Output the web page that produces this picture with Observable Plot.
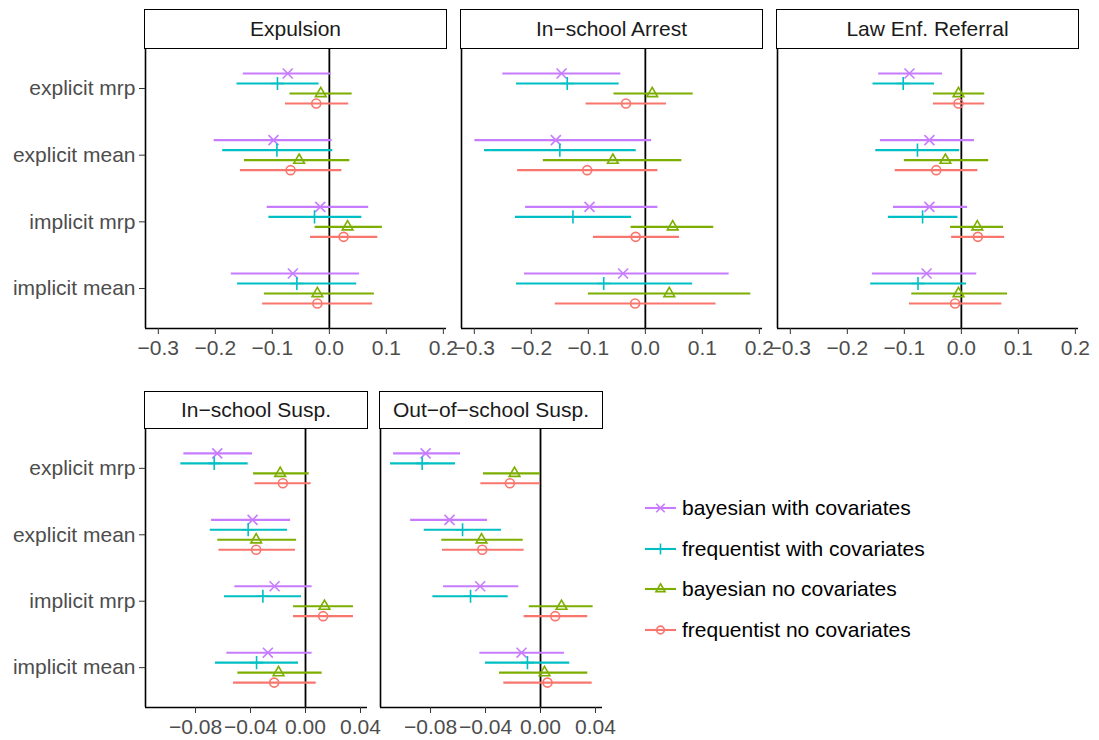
<!DOCTYPE html>
<html><head><meta charset="utf-8">
<script src="https://cdn.jsdelivr.net/npm/d3@7"></script>
<script src="https://cdn.jsdelivr.net/npm/@observablehq/plot@0.6"></script>
<style>
body{margin:0;background:#fff;}
#root{position:relative;width:1099px;height:740px;font-family:"Liberation Sans",Arial,sans-serif;overflow:hidden;}
.strip{position:absolute;box-sizing:border-box;border:1.7px solid #000;background:#fff;font-size:21px;color:#1a1a1a;display:flex;align-items:center;justify-content:center;}
.panel{position:absolute;}
.panel svg{overflow:visible;max-width:none !important;}
.legend-row{position:absolute;display:flex;align-items:center;font-size:21px;color:#000;white-space:nowrap;}
</style></head><body><div id="root"></div>
<script>
// ---- data ----
const categories = ["explicit mrp", "explicit mean", "implicit mrp", "implicit mean"];
const series = ["bayesian with covariates", "frequentist with covariates", "bayesian no covariates", "frequentist no covariates"];
const panels = ["Expulsion", "In\u2212school Arrest", "Law Enf. Referral", "In\u2212school Susp.", "Out\u2212of\u2212school Susp."];
const topTicks = [-0.3, -0.2, -0.1, 0, 0.1, 0.2];
const bottomTicks = [-0.08, -0.04, 0, 0.04];

// values ordered: category by category, series within category
const expulsionEst = [-0.073,-0.091,-0.015,-0.023, -0.098,-0.092,-0.053,-0.068, -0.016,-0.026,0.032,0.025, -0.064,-0.057,-0.021,-0.021];
const expulsionLo  = [-0.151,-0.162,-0.069,-0.077, -0.202,-0.187,-0.149,-0.156, -0.109,-0.106,-0.025,-0.033, -0.172,-0.161,-0.114,-0.117];
const expulsionHi  = [0.003,-0.018,0.040,0.034, 0.005,0.006,0.036,0.022, 0.069,0.057,0.093,0.085, 0.053,0.048,0.079,0.076];

const arrestEst = [-0.147,-0.137,0.012,-0.034, -0.157,-0.150,-0.057,-0.102, -0.098,-0.127,0.048,-0.017, -0.039,-0.073,0.042,-0.018];
const arrestLo  = [-0.250,-0.226,-0.055,-0.104, -0.299,-0.282,-0.179,-0.224, -0.210,-0.228,-0.025,-0.091, -0.212,-0.226,-0.100,-0.158];
const arrestHi  = [-0.043,-0.046,0.084,0.037, 0.011,-0.016,0.064,0.022, 0.022,-0.024,0.120,0.060, 0.147,0.083,0.185,0.124];

const referralEst = [-0.091,-0.102,-0.005,-0.005, -0.056,-0.077,-0.028,-0.044, -0.056,-0.068,0.028,0.029, -0.061,-0.076,-0.005,-0.011];
const referralLo  = [-0.145,-0.155,-0.049,-0.049, -0.142,-0.150,-0.100,-0.116, -0.119,-0.128,-0.019,-0.017, -0.156,-0.159,-0.087,-0.091];
const referralHi  = [-0.033,-0.047,0.041,0.041, 0.023,-0.003,0.048,0.029, 0.011,-0.006,0.074,0.076, 0.027,0.009,0.081,0.071];

const inSuspEst = [-0.0642,-0.0664,-0.0184,-0.0165, -0.0385,-0.0417,-0.0359,-0.0359, -0.0225,-0.0310,0.0138,0.0128, -0.0274,-0.0356,-0.0196,-0.0228];
const inSuspLo  = [-0.0885,-0.0907,-0.0378,-0.0368, -0.0684,-0.0693,-0.0638,-0.0630, -0.0514,-0.0589,-0.0087,-0.0087, -0.0572,-0.0655,-0.0492,-0.0524];
const inSuspHi  = [-0.0385,-0.0417,0.0027,0.0041, -0.0109,-0.0131,-0.0065,-0.0073, 0.0048,-0.0029,0.0349,0.0349, 0.0048,-0.0051,0.0121,0.0078];

const outSuspEst = [-0.0836,-0.0861,-0.0189,-0.0223, -0.0662,-0.0567,-0.0429,-0.0424, -0.0439,-0.0509,0.0153,0.0107, -0.0138,-0.0095,0.0029,0.0051];
const outSuspLo  = [-0.1069,-0.1091,-0.0415,-0.0434, -0.0945,-0.0846,-0.0718,-0.0713, -0.0705,-0.0783,-0.0082,-0.0119, -0.0441,-0.0400,-0.0298,-0.0267];
const outSuspHi  = [-0.0582,-0.0618,0.0000,0.0000, -0.0385,-0.0284,-0.0126,-0.0119, -0.0158,-0.0235,0.0383,0.0344, 0.0175,0.0213,0.0344,0.0376];

// ---- styles ----
const seriesColors = ["#C77CFF", "#00BFC4", "#7CAE00", "#F8766D"];
const seriesSymbols = ["times", "plus", "triangle2", "circle"];
const seriesRadius = [4.6, 4.3, 5.1, 4.5];
const d3Symbols = {times: d3.symbolTimes, plus: d3.symbolPlus, triangle2: d3.symbolTriangle2, circle: d3.symbolCircle};

const root = document.getElementById("root");
const dodgeWidth = 0.6;
const yDomain = [categories.length + 0.6, 0.4];

function buildRows(est, lo, hi) {
  const rows = [];
  categories.forEach((c, ci) => {
    series.forEach((s, si) => {
      const k = ci * series.length + si;
      const offset = (si - (series.length - 1) / 2) * dodgeWidth / series.length;
      rows.push({category: c, series: s, y: ci + 1 + offset, est: est[k], lo: lo[k], hi: hi[k]});
    });
  });
  return rows;
}

function drawPanel({name, est, lo, hi, xDomain, xTicks, fmt, showY, left, top, width, height, stripTop}) {
  const rows = buildRows(est, lo, hi);
  const mL = showY ? 145 : 20, mR = 30, mT = 5, mB = 45;
  const marks = [
    Plot.ruleX([xDomain[0]], {stroke: "black", strokeWidth: 1.6}),
    Plot.ruleY([yDomain[0]], {stroke: "black", strokeWidth: 1.6}),
    Plot.ruleX([0], {stroke: "black", strokeWidth: 1.8}),
    Plot.ruleY(rows, {y: "y", x1: "lo", x2: "hi", stroke: "series", strokeWidth: 2.1}),
    ...series.map((s, j) => Plot.dot(rows.filter(r => r.series === s), {
      x: "est", y: "y", symbol: seriesSymbols[j], r: seriesRadius[j],
      stroke: seriesColors[j], fill: "none", strokeWidth: 1.6
    })),
    Plot.axisX({ticks: xTicks, tickFormat: fmt, tickSize: 6, tickPadding: 6, fontSize: 21, label: null, stroke: "#333333"})
  ];
  if (showY) {
    marks.push(Plot.axisY({ticks: categories.map((c, i) => i + 1), tickFormat: d => categories[d - 1],
      tickSize: 6, tickPadding: 4, fontSize: 21, label: null, stroke: "#333333"}));
  }
  const totalW = mL + width + mR, totalH = mT + height + mB;
  const chart = Plot.plot({
    width: totalW, height: totalH,
    marginLeft: mL, marginRight: mR, marginTop: mT, marginBottom: mB,
    style: {fontFamily: "Liberation Sans, Arial, sans-serif", fontSize: "21px", color: "#4d4d4d", background: "transparent"},
    x: {domain: xDomain},
    y: {domain: yDomain, axis: showY ? undefined : null},
    color: {domain: series, range: seriesColors},
    marks
  });
  const div = document.createElement("div");
  div.className = "panel";
  div.style.left = (left - mL) + "px";
  div.style.top = (top - mT) + "px";
  div.style.width = totalW + "px";
  div.style.height = totalH + "px";
  div.appendChild(chart);
  root.appendChild(div);

  const strip = document.createElement("div");
  strip.className = "strip";
  strip.style.left = (left - 1) + "px";
  strip.style.top = stripTop + "px";
  strip.style.width = (width + 2) + "px";
  strip.style.height = (top - stripTop + 1) + "px";
  strip.textContent = name;
  root.appendChild(strip);
}

const fmtTop = d3.format(".1f");
const fmtBottom = d3.format(".2f");
const topDomain = [-0.3225, 0.2055];
const bottomDomain = [-0.1164, 0.0451];

const topLefts = [145, 461, 777];
const bottomLefts = [145, 380];
const topData = [[expulsionEst, expulsionLo, expulsionHi], [arrestEst, arrestLo, arrestHi], [referralEst, referralLo, referralHi]];
const bottomData = [[inSuspEst, inSuspLo, inSuspHi], [outSuspEst, outSuspLo, outSuspHi]];

topData.forEach(([est, lo, hi], i) => drawPanel({
  name: panels[i], est, lo, hi, xDomain: topDomain, xTicks: topTicks, fmt: fmtTop,
  showY: i === 0, left: topLefts[i], top: 48, width: 301, height: 280, stripTop: 9
}));
bottomData.forEach(([est, lo, hi], i) => drawPanel({
  name: panels[3 + i], est, lo, hi, xDomain: bottomDomain, xTicks: bottomTicks, fmt: fmtBottom,
  showY: i === 0, left: bottomLefts[i], top: 428, width: 222, height: 279, stripTop: 391
}));

// ---- legend ----
series.forEach((s, j) => {
  const row = document.createElement("div");
  row.className = "legend-row";
  row.style.left = "643px";
  row.style.top = (508 + j * 40.5 - 12) + "px";
  row.style.height = "24px";
  const svg = d3.create("svg").attr("width", 36).attr("height", 24);
  svg.append("line").attr("x1", 2).attr("x2", 33).attr("y1", 12).attr("y2", 12)
    .attr("stroke", seriesColors[j]).attr("stroke-width", 2.1);
  const r = seriesRadius[j] * 0.85;
  svg.append("path").attr("transform", "translate(17.5,12)")
    .attr("d", d3.symbol(d3Symbols[seriesSymbols[j]], Math.PI * r * r)())
    .attr("fill", "none").attr("stroke", seriesColors[j]).attr("stroke-width", 1.6);
  row.appendChild(svg.node());
  const label = document.createElement("span");
  label.textContent = s;
  label.style.marginLeft = "3px";
  row.appendChild(label);
  root.appendChild(row);
});
</script></body></html>
